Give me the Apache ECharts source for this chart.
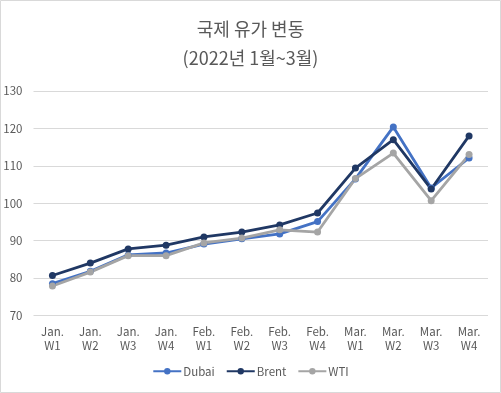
<!DOCTYPE html>
<html><head><meta charset="utf-8">
<script src="https://cdn.jsdelivr.net/npm/echarts@6/dist/echarts.min.js"></script>
<style>html,body{margin:0;padding:0;background:#fff;}#c{width:501px;height:393px;}</style>
</head><body><div id="c"></div>
<script>
var categories = ['Jan.\nW1','Jan.\nW2','Jan.\nW3','Jan.\nW4','Feb.\nW1','Feb.\nW2','Feb.\nW3','Feb.\nW4','Mar.\nW1','Mar.\nW2','Mar.\nW3','Mar.\nW4'];
var dubai = [78.5, 81.8, 86.2, 86.7, 89.1, 90.5, 91.8, 95.1, 106.5, 120.4, 104.1, 112.1];
var brent = [80.7, 84.0, 87.8, 88.8, 91.0, 92.3, 94.2, 97.4, 109.4, 117.0, 103.8, 118.0];
var wti = [77.9, 81.6, 86.0, 86.0, 89.4, 90.7, 92.9, 92.3, 106.6, 113.4, 100.7, 113.0];
var chart = echarts.init(document.getElementById('c'));
function s(name, data, color){
  return {name:name, type:'line', data:data, symbol:'circle', symbolSize:7,
    lineStyle:{width:2.8, color:color}, itemStyle:{color:color}, z: 2};
}
chart.setOption({
  animation:false,
  graphic:[{type:'rect', shape:{x:0.5,y:0.5,width:500,height:392}, style:{fill:'none', stroke:'#d9d9d9', lineWidth:1}, silent:true}],
  title:{text:'국제 유가 변동\n(2022년 1월~3월)', left:'center', top:10,
    textStyle:{fontFamily:'Noto Sans CJK KR', fontSize:18, fontWeight:'normal', color:'#595959', lineHeight:29}},
  grid:{left:33.5, right:13, top:91, bottom:77.5},
  legend:{bottom:11, left:'center', itemWidth:28, itemHeight:8, itemGap:11,
    textStyle:{fontFamily:'Noto Sans CJK KR', fontSize:11.5, color:'#595959', padding:[0,0,0,-3]},
    data:['Dubai','Brent','WTI']},
  xAxis:{type:'category', data:categories, boundaryGap:true,
    axisLine:{show:false}, axisTick:{show:false},
    axisLabel:{fontFamily:'Noto Sans CJK KR', fontSize:11.5, color:'#595959', lineHeight:14, margin:9, interval:0}},
  yAxis:{type:'value', min:70, max:130, interval:10,
    axisLine:{show:false}, axisTick:{show:false},
    splitLine:{lineStyle:{color:'#d9d9d9', width:1}},
    axisLabel:{fontFamily:'Noto Sans CJK KR', fontSize:11.5, color:'#595959', margin:11}},
  series:[s('Dubai', dubai, '#4472C4'), s('Brent', brent, '#203864'), s('WTI', wti, '#A5A5A5')]
});
</script></body></html>
